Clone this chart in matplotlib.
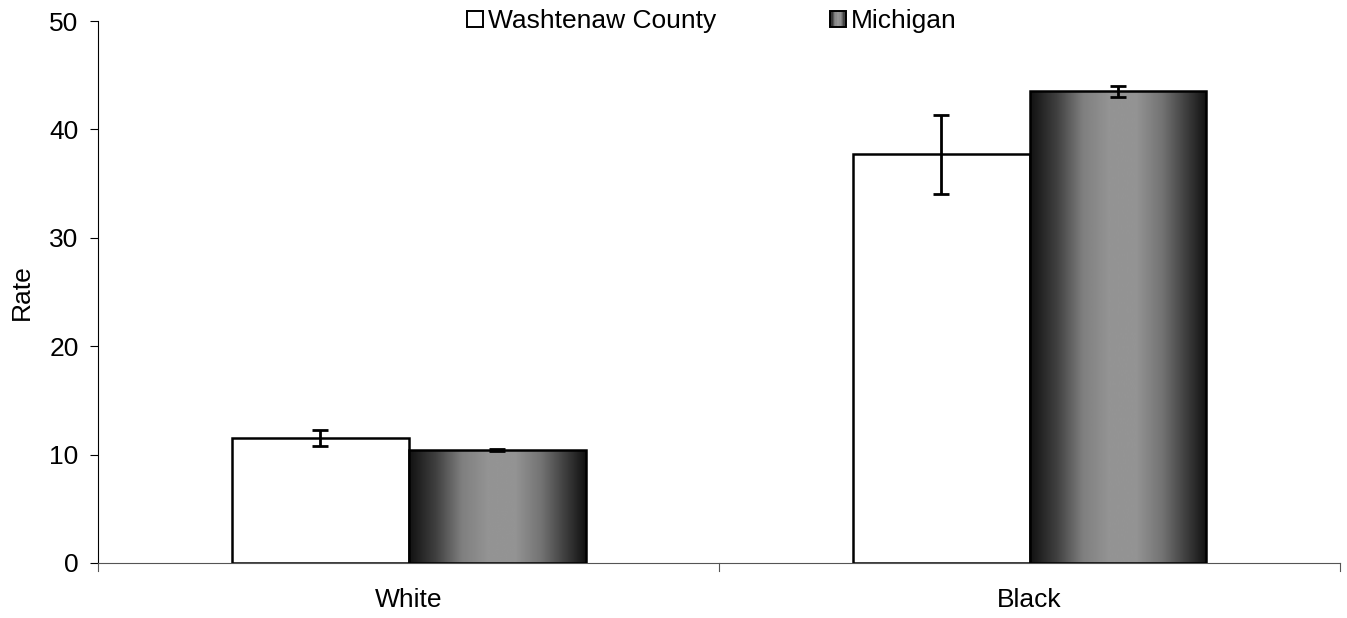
import matplotlib
matplotlib.use("Agg")
import matplotlib.pyplot as plt
import numpy as np
from matplotlib.legend_handler import HandlerBase
from matplotlib.patches import Rectangle

plt.rcParams['font.family'] = ['Liberation Sans', 'DejaVu Sans']

categories = ["White", "Black"]
series_names = ["Washtenaw County", "Michigan"]
washtenaw = [11.5, 37.7]
washtenaw_err = [0.75, 3.65]
michigan = [10.4, 43.5]
michigan_err = [0.1, 0.55]

FS = 19

fig = plt.figure(figsize=(13.47, 6.18), dpi=100)
ax = fig.add_axes([0.0728, 0.089, 0.922, 0.877])

x = np.arange(len(categories))
w = 0.285

# gradient
gx = np.array([0.0, 0.15, 0.3, 0.45, 0.6, 0.75, 0.9, 1.0])
gv = np.array([0.07, 0.25, 0.5, 0.58, 0.58, 0.45, 0.22, 0.07])
xs = np.linspace(0, 1, 256)
grad = np.interp(xs, gx, gv)[None, :]

ax.set_xlim(-0.5, 1.5)
ax.set_ylim(0, 50)

for i in range(len(categories)):
    ax.bar(x[i] - w / 2, washtenaw[i], width=w, facecolor='white',
           edgecolor='black', linewidth=1.8, zorder=2)
    bars = ax.bar(x[i] + w / 2, michigan[i], width=w, facecolor='none',
                  edgecolor='black', linewidth=1.8, zorder=3)
    b = bars[0]
    im = ax.imshow(grad, cmap='gray', vmin=0, vmax=1, aspect='auto',
                   extent=[x[i], x[i] + w, 0, michigan[i]], zorder=2.5,
                   interpolation='bilinear')
    im.set_clip_path(b)

ax.errorbar(x - w / 2, washtenaw, yerr=washtenaw_err, fmt='none',
            ecolor='black', elinewidth=2, capsize=5.5, capthick=2, zorder=4)
ax.errorbar(x + w / 2, michigan, yerr=michigan_err, fmt='none',
            ecolor='black', elinewidth=2, capsize=5.5, capthick=2, zorder=4)

ax.set_xlim(-0.5, 1.5)
ax.set_ylim(0, 50)
ax.set_yticks([0, 10, 20, 30, 40, 50])
ax.set_xticks(x)
ax.set_xticklabels(categories)
ax.tick_params(axis='x', length=0, pad=18, labelsize=FS)
ax.tick_params(axis='y', length=6, direction='out', width=0.8, labelsize=FS, pad=8)
for xt in [-0.5, 0.5, 1.5]:
    ax.plot([xt, xt], [0, -0.014], transform=ax.get_xaxis_transform(),
            color='#555555', lw=0.8, clip_on=False)
ax.spines['top'].set_visible(False)
ax.spines['right'].set_visible(False)
ax.spines['bottom'].set_color('#555555')
ax.spines['left'].set_color('black')
ax.set_ylabel("Rate", fontsize=FS, labelpad=11)


class GradHandler(HandlerBase):
    def create_artists(self, legend, orig_handle, xdescent, ydescent, width,
                       height, fontsize, trans):
        s = 11.5
        x0 = xdescent + width - s
        y0 = -ydescent + (height - s) / 2 - 0.5
        if orig_handle == 'white':
            r = Rectangle((x0, y0), s, s, facecolor='white', edgecolor='black',
                          lw=1.4, transform=trans)
            return [r]
        arts = []
        n = 12
        for k in range(n):
            v = np.interp((k + 0.5) / n, gx, gv)
            arts.append(Rectangle((x0 + s * k / n, y0), s / n + 0.3, s,
                                  facecolor=str(v), edgecolor='none',
                                  transform=trans))
        arts.append(Rectangle((x0, y0), s, s, facecolor='none', edgecolor='black',
                              lw=1.4, transform=trans))
        return arts


leg = fig.legend(['white', 'grad'], series_names,
                 handler_map={str: GradHandler()},
                 loc='center', bbox_to_anchor=(0.5286, 0.966), ncol=2,
                 frameon=False, fontsize=FS, handlelength=0.6,
                 handletextpad=0.19, columnspacing=4.3)

fig.savefig("out.png", dpi=100)
